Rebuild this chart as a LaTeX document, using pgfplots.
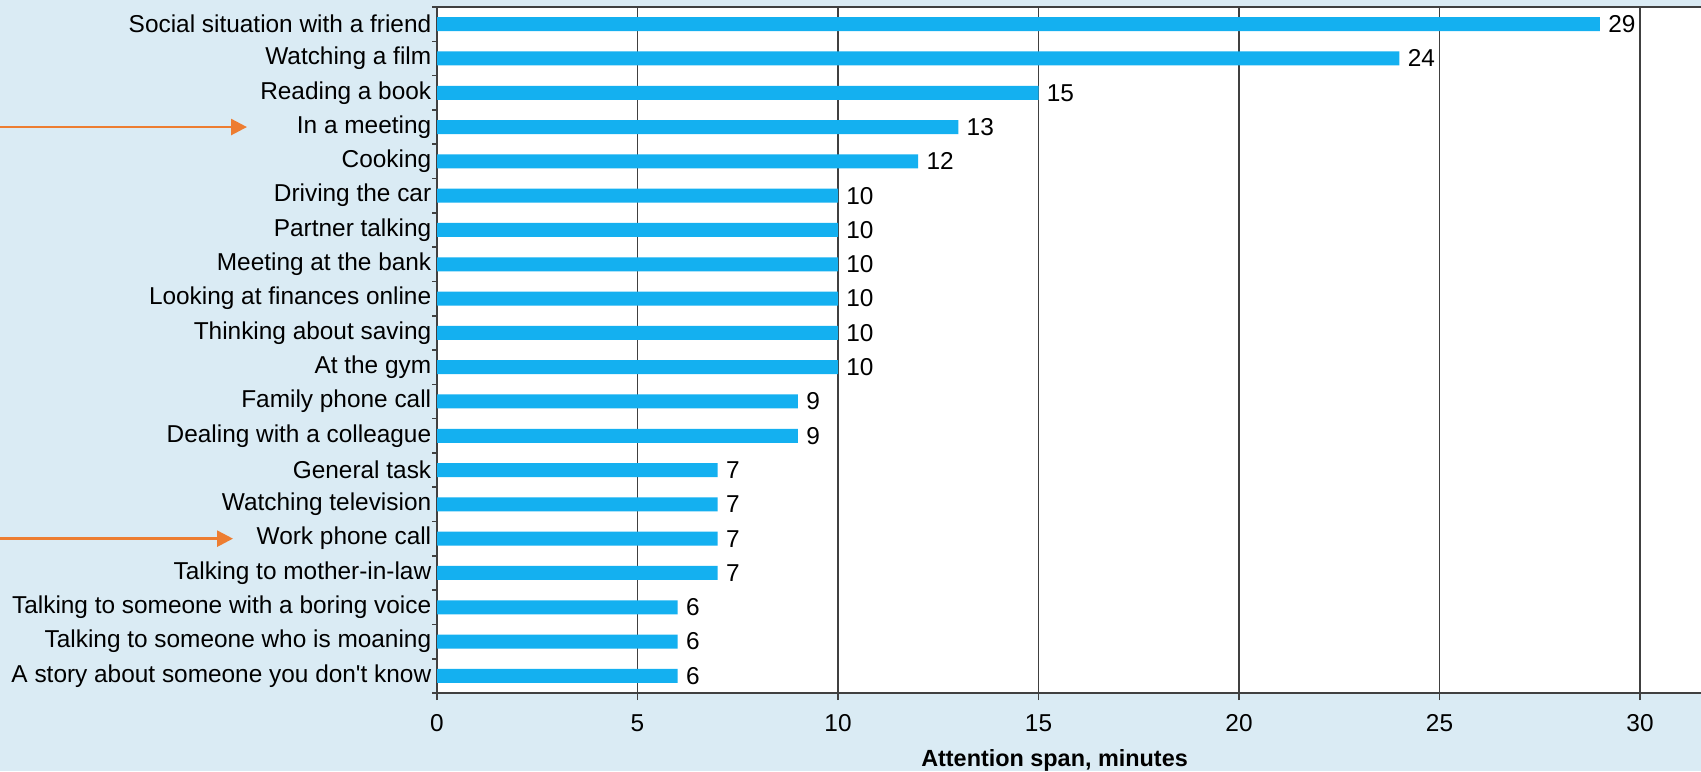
\documentclass[border=0pt]{standalone}
\usepackage{fontspec}
\setmainfont{Liberation Sans}
\usepackage{pgfplots}
\pgfplotsset{compat=1.18}
\usetikzlibrary{arrows.meta}
\definecolor{bgblue}{HTML}{DAEBF4}
\definecolor{barblue}{HTML}{14B0F0}
\definecolor{arrorange}{HTML}{ED7D31}
\definecolor{gridgray}{HTML}{404040}
\begin{document}
\begin{tikzpicture}
\clip (0,0) rectangle (850.5pt,385.5pt);
\fill[bgblue] (0,0) rectangle (850.5pt,385.5pt);
\coordinate (O) at (0,0);
\coordinate (E1) at (123.5pt,0);
\coordinate (E2) at (116.5pt,0);
\begin{axis}[
  at={(218.5pt,39pt)}, anchor=south west,
  scale only axis, width=633.6pt, height=343pt,
  xbar, bar width=7pt,
  xmin=0, xmax=31.6, ymin=-0.5, ymax=19.5, y dir=reverse,
  axis background/.style={fill=white},
  axis line style={draw=gridgray, line width=0.8pt},
  xtick={0,5,...,30},
  xmajorgrids, major grid style={draw=gridgray, line width=0.8pt},
  ytick={0,...,19},
  minor ytick={-0.5,0.5,...,19.5},
  yticklabels={Social situation with a friend, Watching a film, Reading a book, In a meeting, Cooking, Driving the car, Partner talking, Meeting at the bank, Looking at finances online, Thinking about saving, At the gym, Family phone call, Dealing with a colleague, General task, Watching television, Work phone call, Talking to mother-in-law, Talking to someone with a boring voice, Talking to someone who is moaning, A story about someone you don\textquotesingle t know},
  tick pos=left, tick align=outside,
  major tick length=3.5pt, minor tick length=2.5pt,
  every major y tick/.append style={draw=none},
  every tick/.append style={draw=gridgray, line width=0.8pt},
  /pgf/number format/assume math mode=true,
  tick label style={font=\fontsize{12.2}{14}\selectfont, inner sep=0pt},
  yticklabel style={xshift=0.8pt},
  xticklabel style={yshift=-7pt},
  xlabel={Attention span, minutes},
  xlabel style={font=\fontsize{11.7}{13}\selectfont\bfseries, at={(axis description cs:0.4873,0)}, anchor=center, yshift=-33.5pt},
  nodes near coords,
  every node near coord/.append style={font=\fontsize{12.2}{14}\selectfont, inner sep=0pt, xshift=4pt, anchor=west, black},
]
\addplot[fill=barblue, draw=none] coordinates {
(29,0) (24,1) (15,2) (13,3) (12,4) (10,5) (10,6) (10,7) (10,8) (10,9)
(10,10) (9,11) (9,12) (7,13) (7,14) (7,15) (7,16) (6,17) (6,18) (6,19)};
\coordinate (A1) at (axis cs:0,3);
\coordinate (A2) at (axis cs:0,15);
\end{axis}
\draw[arrorange, line width=1.3pt, -{Triangle[length=8pt,width=8pt]}] (A1 -| O) -- (A1 -| E1);
\draw[arrorange, line width=1.3pt, -{Triangle[length=8pt,width=8pt]}] (A2 -| O) -- (A2 -| E2);
\end{tikzpicture}
\end{document}
